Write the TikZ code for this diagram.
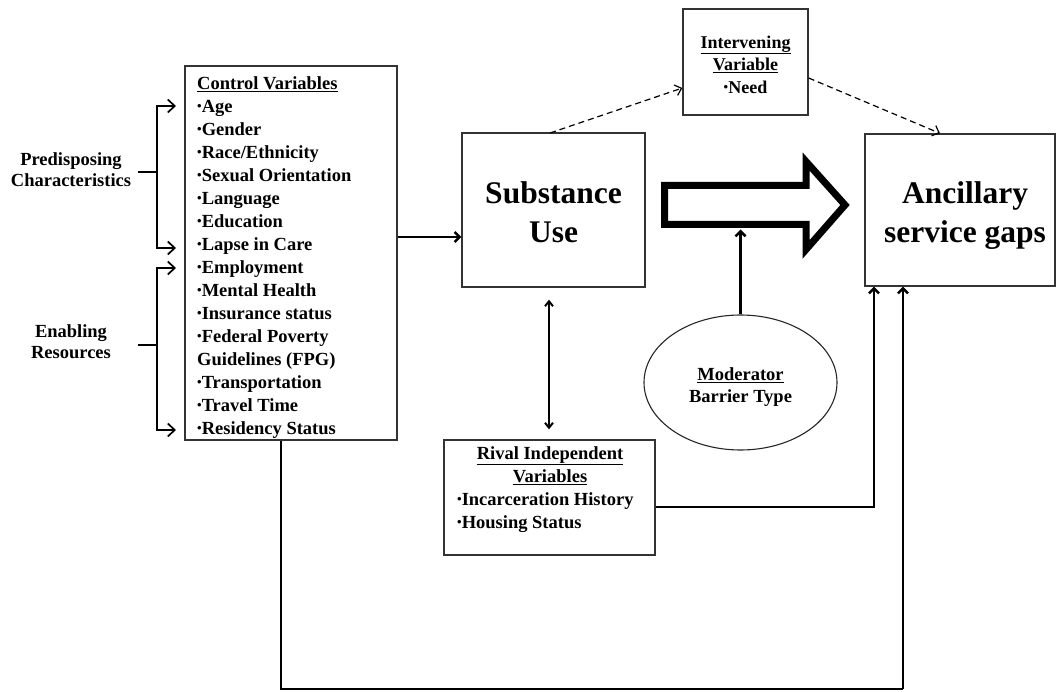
\documentclass[tikz,border=0pt]{standalone}
\usepackage{fontspec}
\setmainfont{Liberation Serif}
\usetikzlibrary{arrows.meta,shapes.geometric}
\newcommand{\bul}{\raisebox{0.25ex}{\fontsize{13}{13}\selectfont •}}
\begin{document}
\begin{tikzpicture}[x=1pt,y=-1pt,
  box/.style={draw=black!80,line width=1.3pt,fill=white,inner sep=0pt},
  small/.style={font=\bfseries\fontsize{18.5}{23}\selectfont,inner sep=0pt},
  big/.style={font=\bfseries\fontsize{31.5}{39}\selectfont,inner sep=0pt,align=center},
  conn/.style={line width=2.5pt,-{Straight Barb[length=5pt,width=10pt]}},
  brk/.style={line width=1.7pt,{Straight Barb[length=7pt,width=13pt]}-{Straight Barb[length=7pt,width=13pt]}},
  stub/.style={line width=1.7pt},
  dashconn/.style={line width=1.2pt,dash pattern=on 6pt off 4pt,-{Straight Barb[length=6pt,width=11pt]}},
  dbl/.style={line width=2pt,{Straight Barb[length=5pt,width=8pt]}-{Straight Barb[length=5pt,width=8pt]}}]
\useasboundingbox (0,0) rectangle (1057,692);

% boxes
\node[box,minimum width=212,minimum height=374] (ctrl) at (291,253) {};
\node[box,minimum width=183,minimum height=154] (sub) at (553.5,210) {};
\node[box,minimum width=125,minimum height=106] (int) at (745.5,62) {};
\node[box,minimum width=190,minimum height=152] (anc) at (960,210) {};
\node[box,minimum width=211,minimum height=115] (riv) at (549.5,497.5) {};
\node[draw=black!85,line width=1.1pt,ellipse,minimum width=193,minimum height=135,inner sep=0pt] (mod) at (740.5,382.5) {};

% control variables list
\node[small,align=left,anchor=north west] (ctrltxt) at (197,72.9) {\strut\underline{Control Variables}\\
\bul Age\\ \bul Gender\\ \bul Race/Ethnicity\\ \bul Sexual Orientation\\ \bul Language\\
\bul Education\\ \bul Lapse in Care\\ \bul Employment\\ \bul Mental Health\\
\bul Insurance status\\ \bul Federal Poverty\\ Guidelines (FPG)\\ \bul Transportation\\
\bul Travel Time\\ \bul Residency Status};

% side labels
\node[small,font=\bfseries\fontsize{18.5}{21}\selectfont,align=center,anchor=north] (pred) at (71,150.3) {\strut Predisposing\\ Characteristics};
\node[small,font=\bfseries\fontsize{18.5}{21}\selectfont,align=center,anchor=north] (enab) at (71,322.3) {\strut Enabling\\ Resources};

% brackets
\coordinate (p1) at (176,106); \coordinate (p2) at (176,248);
\coordinate (pj) at (157,172); \coordinate (pl) at (138,172);
\draw[brk] (p1) -- (p1 -| pj) -- (p2 -| pj) -- (p2);
\draw[stub] (pl) -- (pj);
\coordinate (e1) at (176,268); \coordinate (e2) at (176,430);
\coordinate (ej) at (157,345); \coordinate (el) at (138,345);
\draw[brk] (e1) -- (e1 -| ej) -- (e2 -| ej) -- (e2);
\draw[stub] (el) -- (ej);

% main box texts
\node[big,anchor=north] (subtxt) at (553.5,175.7) {\strut Substance\\ Use};
\node[big,anchor=north] (anctxt) at (965,175.7) {\strut Ancillary\\ service gaps};
\node[small,font=\bfseries\fontsize{18}{22.5}\selectfont,align=center,anchor=north] (inttxt) at (745.5,32.3) {\strut\underline{Intervening}\\ \underline{Variable}\\ \bul Need};
\node[small,font=\bfseries\fontsize{18.5}{22}\selectfont,align=center,anchor=north] (modtxt) at (740.5,364.6) {\strut\underline{Moderator}\\ Barrier Type};
\node[small,align=center,anchor=north] (rivhead) at (550,442.9) {\strut\underline{Rival Independent}\\ \underline{Variables}};
\node[small,align=left,anchor=north west] (rivlist) at (457,488.9) {\strut\bul Incarceration History\\ \bul Housing Status};

% big hollow arrow
\draw[line width=7pt,miter limit=10,fill=white]
  (664.5,185.5) -- (806,185.5) -- (806,161.5) -- (845,205) -- (806,249.5) -- (806,224.5) -- (664.5,224.5) -- cycle;
\coordinate (shaftbot) at (740.5,229.5);

% connectors
\coordinate (cs) at (0,237);
\draw[conn] (ctrl.east |- cs) -- (sub.west |- cs);
\draw[conn] (mod.north) -- (shaftbot);
\coordinate (dx) at (549,0);
\draw[dbl] ([yshift=-12pt]sub.south -| dx) -- ([yshift=10pt]riv.north -| dx);
\coordinate (d1) at (550,133); \coordinate (d2) at (0,88);
\draw[dashconn] (d1) -- (int.west |- d2);
\coordinate (d3) at (0,78); \coordinate (d4) at (940,0);
\draw[dashconn] (int.east |- d3) -- (anc.north -| d4);
\coordinate (rj) at (874,507);
\draw[conn] (riv.east |- rj) -| (anc.south -| rj);
\coordinate (bl) at (281,689); \coordinate (br) at (903,689);
\draw[line width=2.5pt] (ctrl.south -| bl) -- (bl) -- (br);
\draw[conn] (br) -- (anc.south -| br);
\end{tikzpicture}
\end{document}
